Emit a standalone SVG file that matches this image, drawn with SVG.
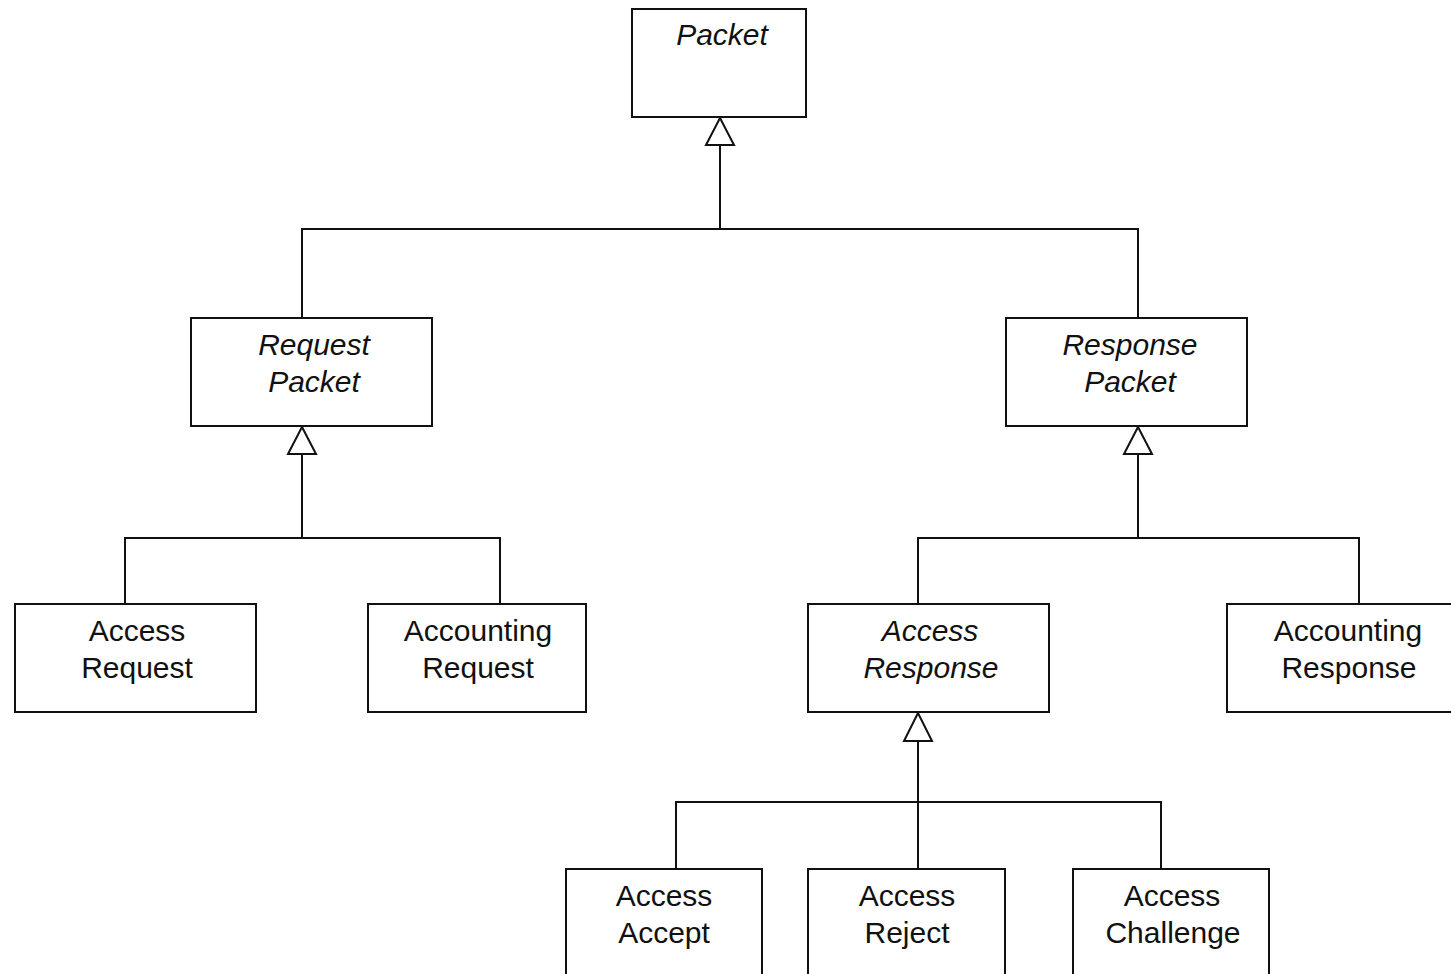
<svg xmlns="http://www.w3.org/2000/svg" width="1451" height="974" viewBox="0 0 1451 974">
<style>
.box{fill:#fff;stroke:#111;stroke-width:2}
.t{font-family:"Liberation Sans",Arial,sans-serif;font-size:30px;fill:#111;text-anchor:middle}
.i{font-style:italic}
.c{fill:none;stroke:#111;stroke-width:2}
.a{fill:#fff;stroke:#111;stroke-width:2;stroke-linejoin:miter}
</style>
<rect width="1451" height="974" fill="#fff"/>
<g id="connectors">
<path class="c" d="M720 145V229M302 318V229H1138V318"/>
<path class="c" d="M302 454V538M125 604V538H500V604"/>
<path class="c" d="M1138 454V538M918 604V538H1359V604"/>
<path class="c" d="M918 741V869M676 869V802H1161V869"/>
<polygon class="a" points="720,118 706,145 734,145"/>
<polygon class="a" points="302,427 288,454 316,454"/>
<polygon class="a" points="1138,427 1124,454 1152,454"/>
<polygon class="a" points="918,713 904,741 932,741"/>
</g>
<g id="packet"><rect class="box" x="632" y="9" width="174" height="108"/><text class="t i" x="722" y="45">Packet</text></g>
<g id="request-packet"><rect class="box" x="191" y="318" width="241" height="108"/><text class="t i" x="314" y="355">Request</text><text class="t i" x="314" y="392">Packet</text></g>
<g id="response-packet"><rect class="box" x="1006" y="318" width="241" height="108"/><text class="t i" x="1130" y="355">Response</text><text class="t i" x="1130" y="392">Packet</text></g>
<g id="access-request"><rect class="box" x="15" y="604" width="241" height="108"/><text class="t" x="137" y="641">Access</text><text class="t" x="137" y="678">Request</text></g>
<g id="accounting-request"><rect class="box" x="368" y="604" width="218" height="108"/><text class="t" x="478" y="641">Accounting</text><text class="t" x="478" y="678">Request</text></g>
<g id="access-response"><rect class="box" x="808" y="604" width="241" height="108"/><text class="t i" x="930" y="641">Access</text><text class="t i" x="931" y="678">Response</text></g>
<g id="accounting-response"><rect class="box" x="1227" y="604" width="242" height="108"/><text class="t" x="1348" y="641">Accounting</text><text class="t" x="1349" y="678">Response</text></g>
<g id="access-accept"><rect class="box" x="566" y="869" width="196" height="120"/><text class="t" x="664" y="906">Access</text><text class="t" x="664" y="943">Accept</text></g>
<g id="access-reject"><rect class="box" x="808" y="869" width="197" height="120"/><text class="t" x="907" y="906">Access</text><text class="t" x="907" y="943">Reject</text></g>
<g id="access-challenge"><rect class="box" x="1073" y="869" width="196" height="120"/><text class="t" x="1172" y="906">Access</text><text class="t" x="1173" y="943">Challenge</text></g>
</svg>
